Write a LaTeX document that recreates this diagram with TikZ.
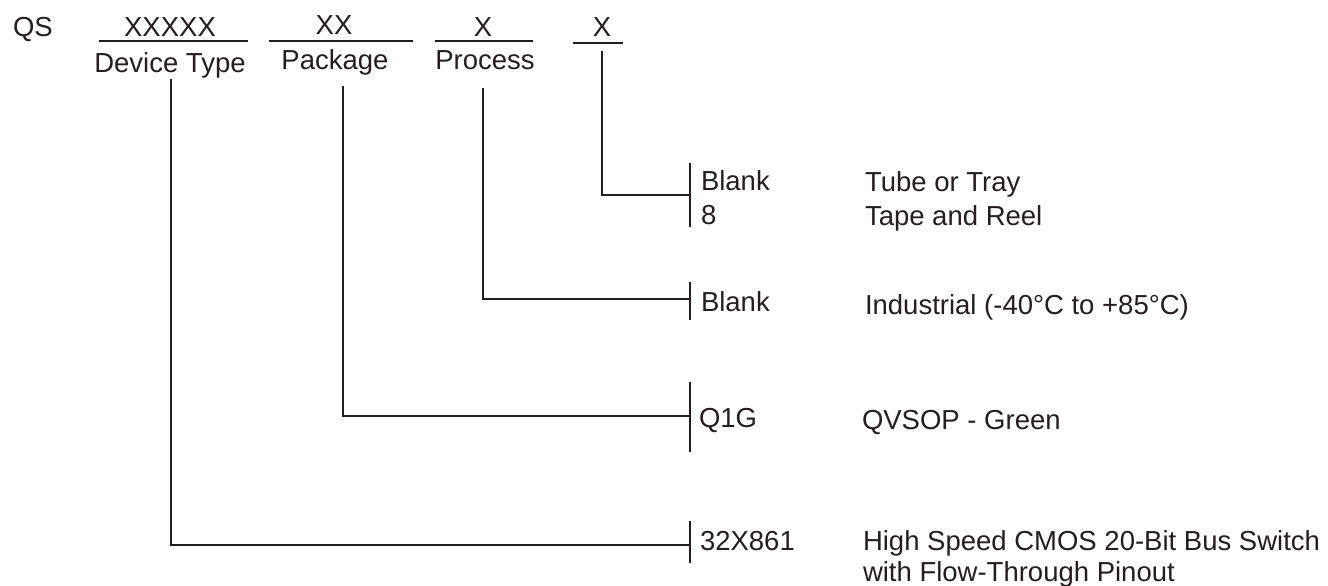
\documentclass[tikz,border=0pt]{standalone}
\usepackage{fontspec}
\setmainfont{Liberation Sans}
\definecolor{ink}{HTML}{231F20}
\begin{document}
\begin{tikzpicture}[x=1pt,y=-1pt,
  every node/.style={inner sep=0pt,outer sep=0pt,text=ink,font=\fontsize{27.5}{33}\selectfont},
  lbl/.style={anchor=base west},
  ctr/.style={anchor=base},
  ln/.style={draw=ink,line width=2pt},
  ul/.style={draw=ink,line width=2pt}]
\useasboundingbox (0,0) rectangle (1328,586);
% header
\node[lbl] (qs) at (13,37) {QS};
\node[ctr] (f1) at (170,37) {XXXXX};
\node[ctr] (f2) at (334,35) {XX};
\node[ctr] (f3) at (483,37) {X};
\node[ctr] (f4) at (602,37) {X};
\coordinate (u1a) at (99,41); \coordinate (u1b) at (248,41);
\coordinate (u2a) at (269,41); \coordinate (u2b) at (413,41);
\coordinate (u3a) at (435,41); \coordinate (u3b) at (533,41);
\coordinate (u4a) at (573,43); \coordinate (u4b) at (623,43);
\draw[ul] (u1a) -- (u1b);
\draw[ul] (u2a) -- (u2b);
\draw[ul] (u3a) -- (u3b);
\draw[ul,line width=1.8pt] (u4a) -- (u4b);
\node[ctr] (n1) at (170,73) {Device Type};
\node[ctr] (n2) at (335,70) {Package};
\node[ctr] (n3) at (485,70) {Process};
% leader start points
\coordinate (s1) at (171,79);
\coordinate (s2) at (343,86);
\coordinate (s3) at (483,88);
\coordinate (s4) at (602,51);
% brackets
\coordinate (b4) at (690,195); \coordinate (b4t) at (690,163); \coordinate (b4b) at (690,227);
\coordinate (b3) at (690,299); \coordinate (b3t) at (690,282); \coordinate (b3b) at (690,320);
\coordinate (b2) at (690,416); \coordinate (b2t) at (690,382); \coordinate (b2b) at (690,452);
\coordinate (b1) at (690,545); \coordinate (b1t) at (690,521); \coordinate (b1b) at (690,563);
\draw[ln] (s4) |- (b4); \draw[ln] (b4t) -- (b4b);
\draw[ln] (s3) |- (b3); \draw[ln] (b3t) -- (b3b);
\draw[ln] (s2) |- (b2); \draw[ln] (b2t) -- (b2b);
\draw[ln] (s1) |- (b1); \draw[ln] (b1t) -- (b1b);
% codes
\node[lbl] (c4a) at (701,190) {Blank};
\node[lbl] (c4b) at (701,224) {8};
\node[lbl] (c3) at (701,311) {Blank};
\node[lbl] (c2) at (699,427) {Q1G};
\node[lbl] (c1) at (700,550) {32X861};
% descriptions
\node[lbl] (d4a) at (865,191) {Tube or Tray};
\node[lbl] (d4b) at (865,225) {Tape and Reel};
\node[lbl] (d3) at (865,314) {Industrial (-40°C to +85°C)};
\node[lbl] (d2) at (862,429) {QVSOP - Green};
\node[lbl] (d1a) at (863,550) {High Speed CMOS 20-Bit Bus Switch};
\node[lbl] (d1b) at (863,581) {with Flow-Through Pinout};
\end{tikzpicture}
\end{document}
